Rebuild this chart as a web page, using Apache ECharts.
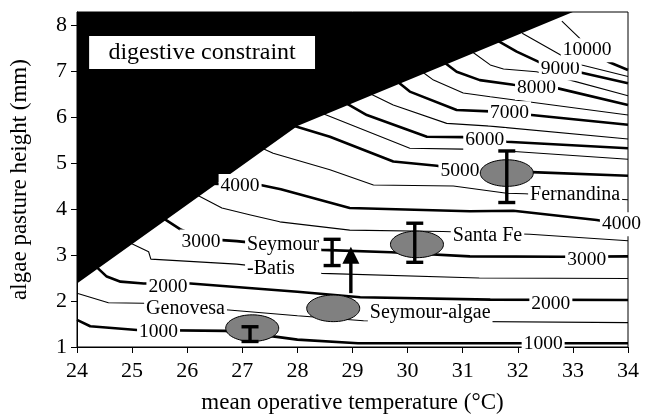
<!DOCTYPE html>
<html>
<head>
<meta charset="utf-8">
<style>
  html, body { margin: 0; padding: 0; background: #fff; }
  #chart { width: 655px; height: 419px; }
</style>
<script src="https://cdn.jsdelivr.net/npm/echarts@6/dist/echarts.min.js"></script>
</head>
<body>
<div id="chart"></div>
<script>
// contour lines: [temperature (°C), pasture height (mm)]
const c1000 = [[24, 1.59], [24.24, 1.45], [25.09, 1.37], [26.69, 1.35], [27.63, 1.22], [28.0, 1.16], [29.1, 1.08], [34, 1.08]];
const c1500 = [[24, 2.17], [24.57, 1.96], [25.21, 1.95], [26.81, 1.8], [28.0, 1.68], [29.2, 1.57], [34, 1.53]];
const c2000 = [[24.3, 2.8], [24.54, 2.53], [24.79, 2.42], [25.21, 2.38], [26.06, 2.38], [28.0, 2.2], [29.14, 2.08], [31.5, 2.03], [34, 2.02]];
const c2500 = [[24.9, 3.3], [25.3, 3.07], [25.34, 2.91], [26.9, 2.8], [28.44, 2.6], [31.3, 2.5], [34, 2.49]];
const c3000 = [[25.5, 3.85], [25.87, 3.56], [26.3, 3.35], [26.9, 3.3], [28.44, 3.11], [29.7, 3.06], [31.13, 2.97], [32.8, 2.96], [34, 2.97]];
const c3500 = [[26.1, 4.35], [26.63, 4.02], [27.15, 3.87], [27.68, 3.72], [28.95, 3.54], [30.64, 3.51], [32.22, 3.45], [34, 3.31]];
const c4000 = [[26.4, 4.55], [27.33, 4.52], [27.7, 4.43], [28.95, 4.02], [31.13, 3.95], [31.92, 3.96], [33.43, 3.76], [34, 3.65]];
const c4500 = [[27.3, 5.35], [27.56, 5.21], [28.59, 4.85], [29.38, 4.52], [30.83, 4.5], [31.8, 4.34], [32.13, 4.33], [34, 4.2]];
const c5000 = [[27.9, 5.82], [28.59, 5.57], [29.74, 5.03], [30.53, 4.94], [30.95, 4.85], [31.8, 4.8], [32.25, 4.8], [34, 4.72]];
const c5500 = [[28.4, 6.1], [30.04, 5.32], [31.0, 5.3], [31.8, 5.26], [34, 5.08]];
const c6000 = [[28.85, 6.32], [29.26, 6.04], [30.35, 5.57], [31.01, 5.56], [31.4, 5.5], [31.8, 5.46], [34, 5.32]];
const c6500 = [[29.33, 6.5], [29.74, 6.26], [30.71, 5.86], [31.5, 5.8], [34, 5.52]];
const c7000 = [[29.78, 6.8], [30.04, 6.55], [30.89, 6.15], [31.5, 6.12], [31.85, 6.08], [32.25, 6.04], [34, 5.83]];
const c7500 = [[30.22, 7.02], [30.47, 6.8], [31.01, 6.52], [31.5, 6.44], [34, 6.04]];
const c8000 = [[30.65, 7.2], [30.89, 6.98], [31.31, 6.8], [31.92, 6.7], [32.34, 6.64], [32.73, 6.62], [34, 6.26]];
const c8500 = [[31.12, 7.46], [31.5, 7.13], [31.74, 7.04], [32.34, 6.98], [32.95, 6.8], [34, 6.46]];
const c9000 = [[31.6, 7.68], [31.98, 7.42], [32.37, 7.2], [32.77, 7.06], [33.16, 6.96], [34, 6.73]];
const c9500 = [[32.08, 7.82], [32.77, 7.35], [33.16, 7.13], [34, 6.88]];
// the 10000 line is drawn thin up to its label, thick after it
const c10000a = [[32.8, 8.08], [33.13, 7.7], [33.26, 7.46]];
const c10000b = [[33.26, 7.46], [33.64, 7.2], [34, 7.02]];

const contours = [c1000, c1500, c2000, c2500, c3000, c3500, c4000, c4500, c5000, c5500, c6000, c6500, c7000, c7500, c8000, c8500, c9000, c9500, c10000a, c10000b];
const thick = [true, false, true, false, true, false, true, false, true, false, true, false, true, false, true, false, true, false, false, true];

// where the level labels sit on the lines
const contourLabels = [
  [25.48, 1.33, '1000'], [32.46, 1.07, '1000'],
  [25.65, 2.31, '2000'], [32.6, 1.93, '2000'],
  [26.25, 3.29, '3000'], [33.25, 2.9, '3000'],
  [26.96, 4.5, '4000'], [33.88, 3.67, '4000'],
  [30.95, 4.83, '5000'], [31.4, 5.5, '6000'], [31.85, 6.08, '7000'],
  [32.34, 6.63, '8000'], [32.77, 7.05, '9000'], [33.26, 7.45, '10000']
];

// island names
const siteLabels = [
  [25.97, 1.84, 'Genovesa', 'center'],
  [27.05, 2.97, 'Seymour\n-Batis', 'left'],
  [30.41, 1.74, 'Seymour-algae', 'center'],
  [31.45, 3.41, 'Santa Fe', 'center'],
  [33.04, 4.3, 'Fernandina', 'center']
];

// region above the digestive limit
const blackRegion = [[24, 8.28], [33.0, 8.28], [28.0, 5.8], [24, 2.38]];
const boxCorners = [[24.22, 7.76], [28.32, 7.04]];
const boxText = 'digestive constraint';

// observed sites (grey ellipses) and error bars
const ellipseX = [27.18, 28.65, 30.17, 31.8];
const ellipseY = [1.41, 1.84, 3.23, 4.78];
const errX = [27.14, 28.63, 30.13, 31.8];
const errLow = [1.12, 2.77, 2.84, 4.14];
const errHigh = [1.44, 3.34, 3.69, 5.26];
const arrowX = 28.97;
const arrowFrom = 2.17;
const arrowTo = 3.18;

const FONT = '"Liberation Serif", "Times New Roman", serif';

const chart = echarts.init(document.getElementById('chart'));

function label(api, x, y, txt, size, align) {
  const p = api.coord([x, y]);
  return {
    type: 'text', x: p[0], y: p[1],
    style: {
      text: txt, font: size + 'px ' + FONT, fill: '#000',
      align: align, verticalAlign: 'middle', lineHeight: 24,
      backgroundColor: '#fff', padding: [0, 2]
    }
  };
}

const lineSeries = contours.map((pts, i) => ({
  type: 'line',
  data: pts,
  symbol: 'none',
  silent: true,
  z: 2,
  lineStyle: { color: '#000', width: thick[i] ? 2.6 : 1.1 }
}));

const option = {
  animation: false,
  textStyle: { fontFamily: FONT },
  grid: { left: 77, right: 27, top: 12, bottom: 72, show: true, borderColor: '#000', borderWidth: 1 },
  xAxis: {
    type: 'value', min: 24, max: 34, interval: 1,
    name: 'mean operative temperature (°C)', nameLocation: 'middle', nameGap: 44,
    nameTextStyle: { fontSize: 23, color: '#000', fontFamily: FONT },
    axisLine: { lineStyle: { color: '#000', width: 1 } },
    axisTick: { length: 6, lineStyle: { color: '#000' } },
    axisLabel: { fontSize: 22, color: '#000', margin: 13, fontFamily: FONT },
    splitLine: { show: false }
  },
  yAxis: {
    type: 'value', min: 1, max: 8.28, interval: 1,
    name: 'algae pasture height (mm)', nameLocation: 'middle', nameGap: 46,
    nameTextStyle: { fontSize: 23, color: '#000', fontFamily: FONT },
    axisLine: { lineStyle: { color: '#000', width: 1 } },
    axisTick: { length: 6, lineStyle: { color: '#000' } },
    axisLabel: {
      fontSize: 22, color: '#000', margin: 10, fontFamily: FONT, showMaxLabel: false,
      formatter: v => (Number.isInteger(v) ? String(v) : '')
    },
    splitLine: { show: false }
  },
  series: lineSeries.concat([
    {
      // black digestive-constraint region with its white caption box
      type: 'custom', silent: true, z: 3,
      data: [[24, 8]],
      renderItem: (params, api) => {
        const a = api.coord(boxCorners[0]);
        const b = api.coord(boxCorners[1]);
        const mid = api.coord([(boxCorners[0][0] + boxCorners[1][0]) / 2, (boxCorners[0][1] + boxCorners[1][1]) / 2]);
        return {
          type: 'group',
          children: [
            { type: 'polygon', shape: { points: blackRegion.map(p => api.coord(p)) }, style: { fill: '#000' } },
            { type: 'rect', shape: { x: a[0], y: a[1], width: b[0] - a[0], height: b[1] - a[1] }, style: { fill: '#fff' } },
            { type: 'text', x: mid[0], y: mid[1], style: { text: boxText, font: '24px ' + FONT, fill: '#000', align: 'center', verticalAlign: 'middle' } }
          ]
        };
      }
    },
    {
      type: 'custom', silent: true, z: 4,
      data: contourLabels.map(d => [d[0], d[1]]),
      renderItem: (params, api) => {
        const d = contourLabels[params.dataIndex];
        return label(api, d[0], d[1], d[2], 19.5, 'center');
      }
    },
    {
      type: 'custom', silent: true, z: 4,
      data: siteLabels.map(d => [d[0], d[1]]),
      renderItem: (params, api) => {
        const d = siteLabels[params.dataIndex];
        return label(api, d[0], d[1], d[2], 20, d[3]);
      }
    },
    {
      type: 'custom', silent: true, z: 5,
      data: ellipseX.map((x, i) => [x, ellipseY[i]]),
      renderItem: (params, api) => {
        const p = api.coord([api.value(0), api.value(1)]);
        return {
          type: 'ellipse',
          shape: { cx: p[0], cy: p[1], rx: 26.5, ry: 13.3 },
          style: { fill: '#808080', stroke: '#000', lineWidth: 1 }
        };
      }
    },
    {
      // error bars, Seymour-Batis bar has no ellipse
      type: 'custom', silent: true, z: 6,
      data: errX.map((x, i) => [x, errLow[i], errHigh[i]]),
      renderItem: (params, api) => {
        const lo = api.coord([api.value(0), api.value(1)]);
        const hi = api.coord([api.value(0), api.value(2)]);
        const w = 8.5;
        const st = { stroke: '#000', lineWidth: 3.4 };
        return {
          type: 'group',
          children: [
            { type: 'line', shape: { x1: lo[0], y1: lo[1], x2: hi[0], y2: hi[1] }, style: st },
            { type: 'line', shape: { x1: lo[0] - w, y1: lo[1], x2: lo[0] + w, y2: lo[1] }, style: st },
            { type: 'line', shape: { x1: hi[0] - w, y1: hi[1], x2: hi[0] + w, y2: hi[1] }, style: st }
          ]
        };
      }
    },
    {
      type: 'custom', silent: true, z: 6,
      data: [[arrowX, arrowFrom, arrowTo]],
      renderItem: (params, api) => {
        const from = api.coord([api.value(0), api.value(1)]);
        const to = api.coord([api.value(0), api.value(2)]);
        const head = 17;
        return {
          type: 'group',
          children: [
            { type: 'line', shape: { x1: from[0], y1: from[1], x2: to[0], y2: to[1] + head - 2 }, style: { stroke: '#000', lineWidth: 3.4 } },
            { type: 'polygon', shape: { points: [[to[0], to[1]], [to[0] - 8.5, to[1] + head], [to[0] + 8.5, to[1] + head]] }, style: { fill: '#000' } }
          ]
        };
      }
    }
  ])
};

chart.setOption(option);
</script>
</body>
</html>
